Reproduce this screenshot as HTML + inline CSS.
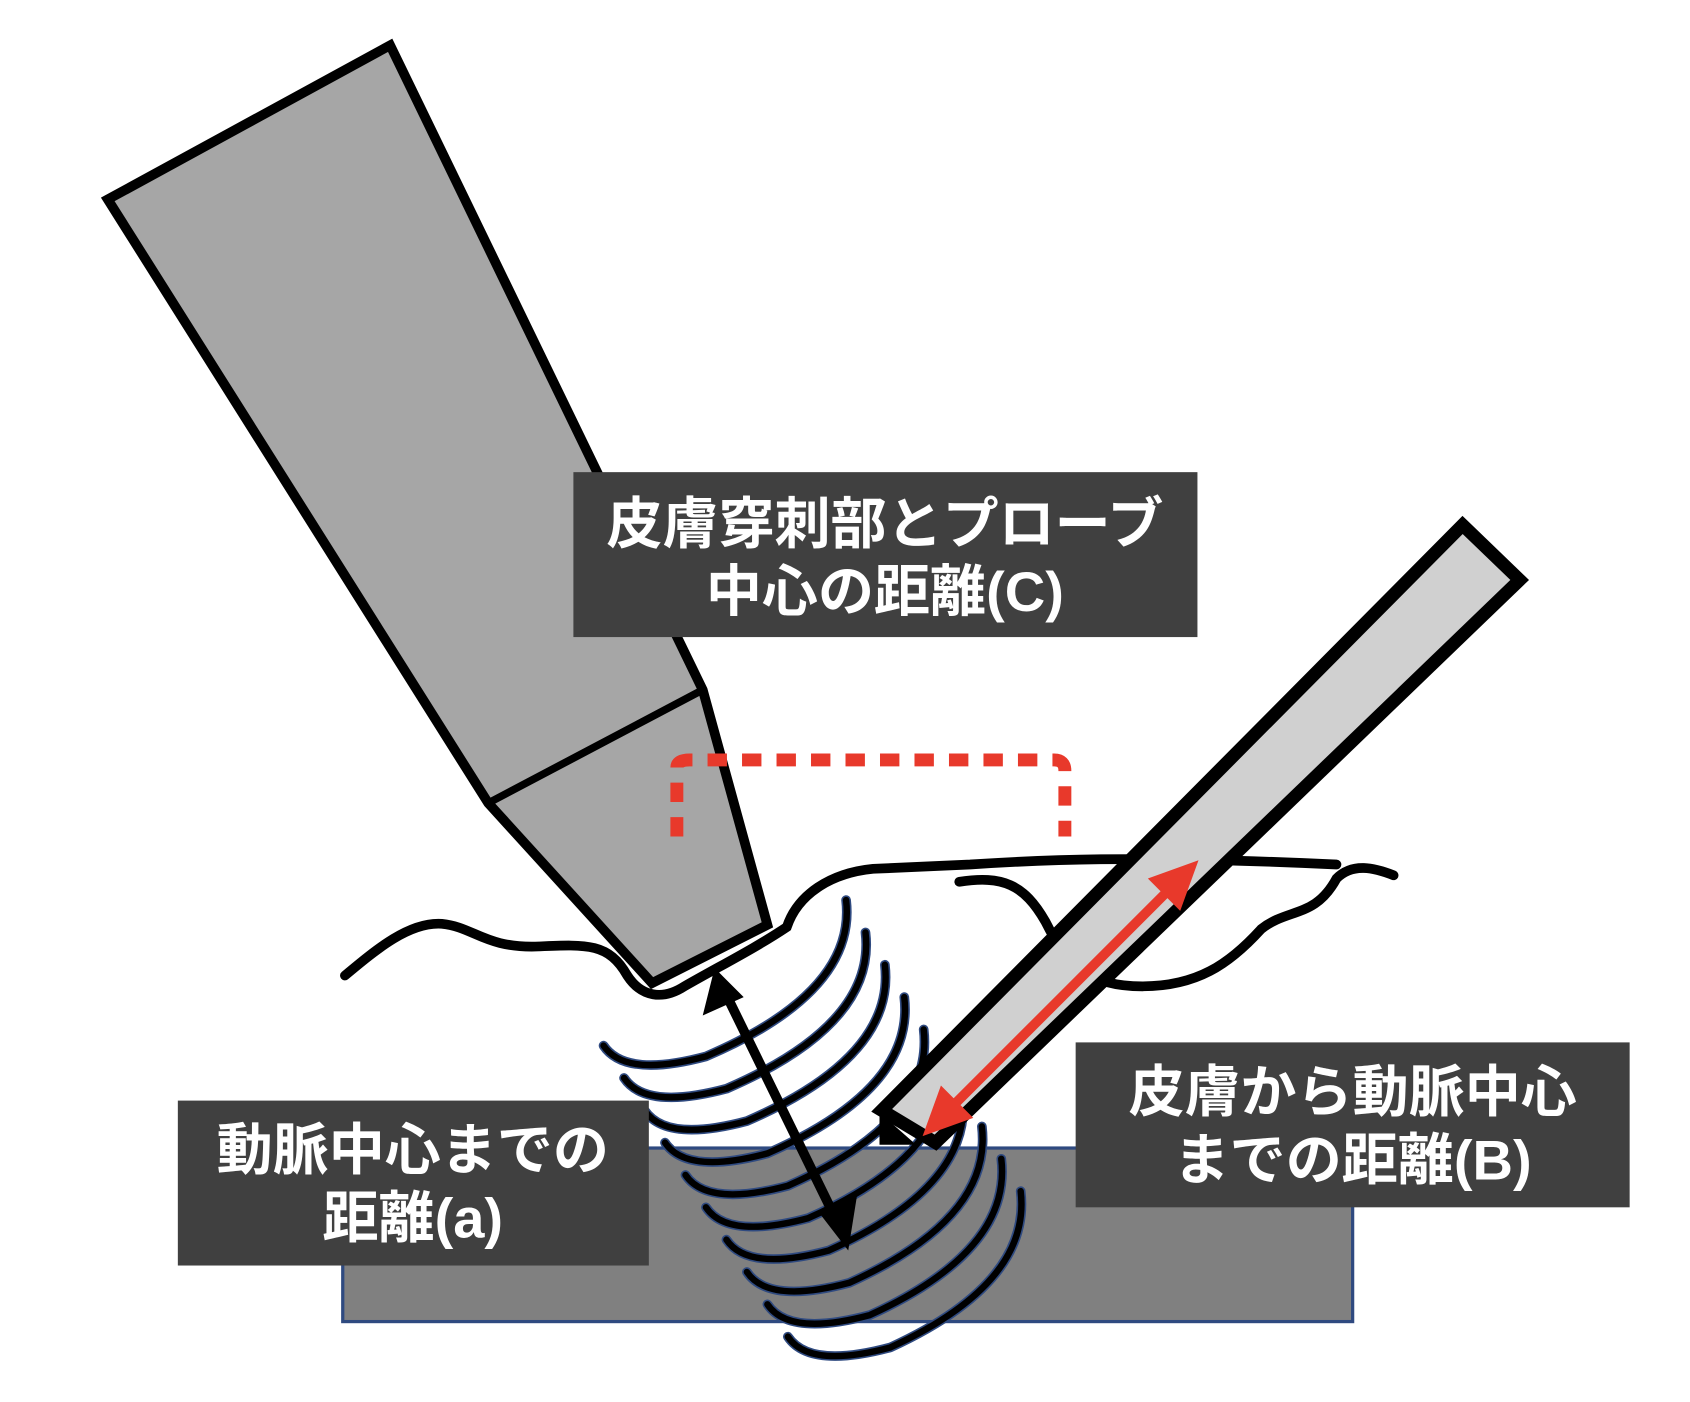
<!DOCTYPE html>
<html><head><meta charset="utf-8">
<style>
html,body{margin:0;padding:0;background:#fff;}
svg{display:block;}
text{font-family:"Liberation Sans","Noto Sans CJK JP",sans-serif;font-weight:bold;fill:#fff;}
</style></head>
<body>
<svg width="1690" height="1402" viewBox="0 0 1568 1300.6" preserveAspectRatio="none">
  <rect x="318" y="1065" width="937" height="161" fill="#808080" stroke="#2f4a80" stroke-width="3"/>
  <g id="waves"></g>
  <g>
    <polygon points="100,185 362,42 652,640 712,858 605,912 453,745" fill="#a6a6a6" stroke="#000" stroke-width="9" stroke-linejoin="miter"/>
    <line x1="453" y1="745" x2="652" y2="640" stroke="#000" stroke-width="7"/>
  </g>
  <g fill="none" stroke="#000" stroke-width="9" stroke-linecap="round">
    <path d="M320,905 C350,880 380,855 410,857 C440,860 450,880 500,878 C545,876 565,875 582,905 C595,925 615,928 635,915 C670,895 700,880 730,860 C740,830 770,810 810,806 L900,802 C960,798 1050,793 1240,802"/>
    <path d="M890,818 C930,812 950,820 970,855 C990,895 1010,915 1060,915 C1110,915 1140,895 1170,862 C1195,842 1220,852 1240,815 C1255,800 1275,805 1293,812"/>
  </g>
  <g>
    <polygon points="1357,487 1410,538 868,1060 818,1030" fill="#d0d0d0" stroke="#000" stroke-width="12" stroke-linejoin="miter"/>
    <polygon points="816,1032 816,1062 850,1062" fill="#000"/>
  </g>
  <g>
    <line x1="670" y1="915" x2="780" y2="1140" stroke="#000" stroke-width="9"/>
    <polygon points="663,898 652,942 690,925" fill="#000"/>
    <polygon points="787,1160 760,1125 795,1110" fill="#000"/>
  </g>
  <g>
    <line x1="1090" y1="820" x2="878" y2="1032" stroke="#e8392b" stroke-width="9"/>
    <polygon points="1112,798 1065,815 1095,845" fill="#e8392b"/>
    <polygon points="856,1054 873,1007 903,1037" fill="#e8392b"/>
  </g>
  <path d="M628,776 L628,712 Q628,705 640,705 L978,705 Q988,705 988,715 L988,776" fill="none" stroke="#e8392b" stroke-width="12" stroke-dasharray="18 14"/>
  <g>
    <rect x="532" y="438" width="579" height="153" fill="#404040"/>
    <text x="821" y="504" font-size="52" text-anchor="middle">皮膚穿刺部とプローブ</text>
    <text x="821" y="567" font-size="52" text-anchor="middle">中心の距離(C)</text>
  </g>
  <g>
    <rect x="165" y="1021" width="437" height="153" fill="#404040"/>
    <text x="383" y="1085" font-size="52" text-anchor="middle">動脈中心までの</text>
    <text x="383" y="1148" font-size="52" text-anchor="middle">距離(a)</text>
  </g>
  <g>
    <rect x="998" y="967" width="514" height="153" fill="#404040"/>
    <text x="1255" y="1031" font-size="52" text-anchor="middle">皮膚から動脈中心</text>
    <text x="1255" y="1094" font-size="52" text-anchor="middle">までの距離(B)</text>
  </g>
</svg>
<script>
const g=document.getElementById('waves');
const ns='http://www.w3.org/2000/svg';
for(let i=0;i<10;i++){
  const lx=560+i*19, ly=970+i*30;
  const rx=785+i*18, ry=835+i*30;
  const d=`M${lx},${ly} Q${lx+20},${ly+30} ${lx+95},${ly+10} Q${rx+10},${ry+85} ${rx},${ry}`;
  ['#2f4a80','#000'].forEach((c,k)=>{
    const p=document.createElementNS(ns,'path');
    p.setAttribute('d',d);p.setAttribute('fill','none');
    p.setAttribute('stroke',c);p.setAttribute('stroke-width',k?6:9);
    p.setAttribute('stroke-linecap','round');
    
    
    g.appendChild(p);
  });
}
</script>
</body></html>
